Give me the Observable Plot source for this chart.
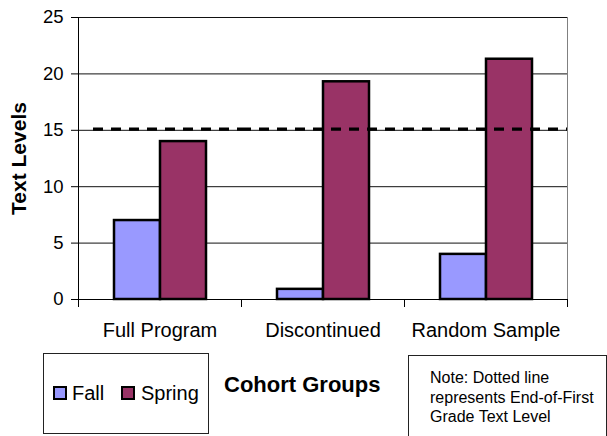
<!DOCTYPE html>
<html>
<head>
<meta charset="utf-8">
<script src="https://cdn.jsdelivr.net/npm/d3@7"></script>
<script src="https://cdn.jsdelivr.net/npm/@observablehq/plot@0.6"></script>
<style>
  body { margin: 0; background: #fff; font-family: "Liberation Sans", Arial, sans-serif; }
  #wrap { position: relative; width: 607px; height: 436px; overflow: hidden; }
  #wrap svg { position: absolute; left: 0; top: 0; }
  .box { position: absolute; border: 1px solid #222; box-sizing: border-box; background: #fff; }
  .sw { position: absolute; width: 14px; height: 14px; border: 2px solid #000; box-sizing: border-box; }
  .t { position: absolute; white-space: nowrap; color: #000; }
</style>
</head>
<body>
<div id="wrap"></div>
<script>
const categories = ["Full Program", "Discontinued", "Random Sample"];
const seriesNames = ["Fall", "Spring"];
const fall = [7, 0.9, 4];
const spring = [14, 19.3, 21.3];
const benchmark = 15.1;
const yTicks = [0, 5, 10, 15, 20, 25];
const colors = ["#9999FF", "#993366"];

const data = categories.flatMap((c, i) => [
  {category: c, series: seriesNames[0], value: fall[i]},
  {category: c, series: seriesNames[1], value: spring[i]}
]);

const W = 607, H = 345, ML = 77, MR = 39, MT = 17, MB = 46;
const innerH = H - MT - MB;
const tick = 7;

const chart = Plot.plot({
  width: W,
  height: H,
  marginLeft: ML,
  marginRight: MR,
  marginTop: MT,
  marginBottom: MB,
  style: {fontFamily: "Liberation Sans, Arial, sans-serif", color: "#000", background: "transparent"},
  fx: {domain: categories, padding: 0, label: null, axis: null},
  x: {domain: seriesNames, paddingInner: 0, paddingOuter: 0.74, axis: null},
  y: {domain: [0, 25], label: null, axis: null},
  color: {domain: seriesNames, range: colors},
  marks: [
    Plot.frame({stroke: "#808080", facet: "super"}),
    Plot.ruleY(yTicks.slice(1), {stroke: "#111", strokeWidth: 1}),
    Plot.barY(data, {fx: "category", x: "series", y: "value", fill: "series", stroke: "#000", strokeWidth: 2.5}),
    Plot.ruleY([benchmark], {fx: () => categories[0], stroke: "#000", strokeWidth: 3.2, strokeDasharray: "10,8", insetLeft: 15}),
    Plot.ruleY(categories.slice(1), {fx: d => d, y: () => benchmark, stroke: "#000", strokeWidth: 3.2, strokeDasharray: "10,8"}),
    Plot.ruleY([0], {stroke: "#000", strokeWidth: 1}),
    Plot.frame({anchor: "left", stroke: "#000", facet: "super"}),
    // category boundary ticks below the axis
    Plot.frame({anchor: "left", stroke: "#000", insetTop: innerH, insetBottom: -tick}),
    Plot.frame({anchor: "right", stroke: "#000", insetTop: innerH, insetBottom: -tick, facet: "super"}),
    Plot.axisY(yTicks, {anchor: "left", tickSize: tick, tickPadding: 8, fontSize: 18.5, label: null, stroke: "#000", fill: "#000"}),
    Plot.axisFx({anchor: "bottom", tickSize: 0, tickPadding: 23, fontSize: 20, label: null, fill: "#000"}),
    Plot.text(["Text Levels"], {text: d => d, frameAnchor: "left", textAnchor: "middle", rotate: -90, dx: -59, fontSize: 21, fontWeight: "bold", fill: "#000", facet: "super"})
  ]
});

const wrap = document.getElementById("wrap");
wrap.appendChild(chart);

function add(html) { wrap.insertAdjacentHTML("beforeend", html); }

// legend box
add(`<div class="box" style="left:43px;top:353px;width:166px;height:81px;"></div>`);
add(`<div class="sw" style="left:53px;top:386px;background:${colors[0]}"></div>`);
add(`<div class="t" style="left:72px;top:383px;font-size:20px;line-height:20px;">${seriesNames[0]}</div>`);
add(`<div class="sw" style="left:121px;top:386px;background:${colors[1]}"></div>`);
add(`<div class="t" style="left:141px;top:383px;font-size:20px;line-height:20px;">${seriesNames[1]}</div>`);
// axis title
add(`<div class="t" style="left:224px;top:374px;font-size:22px;line-height:22px;font-weight:bold;">Cohort Groups</div>`);
// note box
add(`<div class="box" style="left:408px;top:355px;width:199px;height:90px;"></div>`);
add(`<div class="t" style="left:430px;top:368px;font-size:16px;line-height:19.7px;">Note: Dotted line<br>represents End-of-First<br>Grade Text Level</div>`);
</script>
</body>
</html>
